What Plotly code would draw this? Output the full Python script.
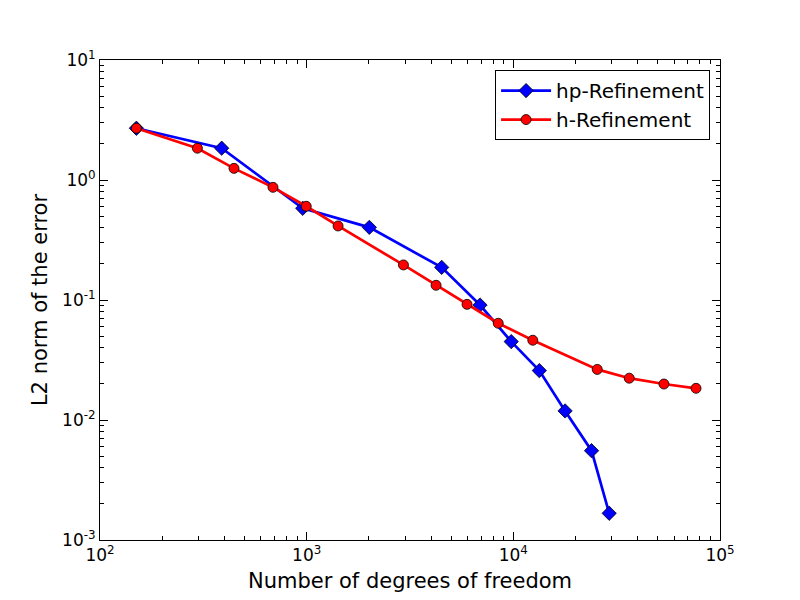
import plotly.graph_objects as go

hp_dof = [150, 388, 957, 2010, 4500, 6900, 9770, 13360, 17800, 23900, 29100]
hp_err = [2.70, 1.84, 0.581, 0.403, 0.187, 0.0908, 0.045, 0.0258, 0.0119, 0.00555, 0.00167]

h_dof = [150, 296, 445, 687, 995, 1419, 2940, 4228, 5970, 8450, 12420, 25470, 36380, 53550, 76560]
h_err = [2.70, 1.84, 1.25, 0.869, 0.604, 0.414, 0.196, 0.1326, 0.092, 0.064, 0.0462, 0.0264, 0.0223, 0.01995, 0.01837]

x_ticks = [1e2, 1e3, 1e4, 1e5]
x_ticktext = ["10<sup>2</sup>", "10<sup>3</sup>", "10<sup>4</sup>", "10<sup>5</sup>"]
y_ticks = [1e-3, 1e-2, 1e-1, 1e0, 1e1]
y_ticktext = ["10<sup>-3</sup>", "10<sup>-2</sup>", "10<sup>-1</sup>", "10<sup>0</sup>", "10<sup>1</sup>"]

x_minor = [m * 10 ** e for e in (2, 3, 4) for m in range(2, 10)]
y_minor = [m * 10.0 ** e for e in (-3, -2, -1, 0) for m in range(2, 10)]

font = "DejaVu Sans"

fig = go.Figure()
fig.add_trace(go.Scatter(
    x=hp_dof, y=hp_err, mode="lines+markers", name="hp-Refinement",
    line=dict(color="#0000ff", width=2.7),
    marker=dict(symbol="diamond", size=11, color="#0000ff", line=dict(color="black", width=0.8)),
))
fig.add_trace(go.Scatter(
    x=h_dof, y=h_err, mode="lines+markers", name="h-Refinement",
    line=dict(color="#ff0000", width=2.7),
    marker=dict(symbol="circle", size=10, color="#ff0000", line=dict(color="black", width=0.8)),
))
# invisible trace to anchor the minor-tick overlay axes
fig.add_trace(go.Scatter(x=[x_ticks[0]], y=[y_ticks[0]], xaxis="x2", yaxis="y2",
                         mode="markers", marker=dict(opacity=0), showlegend=False, hoverinfo="skip"))

major = dict(
    type="log", showgrid=False, zeroline=False, showline=True, linecolor="black", linewidth=1,
    mirror="ticks", ticks="inside", ticklen=8, tickcolor="black", tickwidth=1,
    tickfont=dict(family=font, size=17, color="black"),
)
minor = dict(
    type="log", showgrid=False, zeroline=False, showline=False,
    mirror="ticks", ticks="inside", ticklen=4, tickcolor="black", tickwidth=1,
    showticklabels=False,
)

fig.update_layout(
    width=800, height=600,
    margin=dict(l=100, r=80, t=60, b=60),
    paper_bgcolor="white", plot_bgcolor="white",
    font=dict(family=font, color="black"),
    xaxis=dict(major, range=[2, 5], tickvals=x_ticks, ticktext=x_ticktext,
               title=dict(text="Number of degrees of freedom", font=dict(family=font, size=21), standoff=8)),
    yaxis=dict(major, range=[-3, 1], tickvals=y_ticks, ticktext=y_ticktext,
               title=dict(text="L2 norm of the error", font=dict(family=font, size=21), standoff=8)),
    xaxis2=dict(minor, range=[2, 5], tickvals=x_minor, overlaying="x", anchor="y2"),
    yaxis2=dict(minor, range=[-3, 1], tickvals=y_minor, overlaying="y", anchor="x2"),
    legend=dict(x=0.984, y=0.979, xanchor="right", yanchor="top",
                bordercolor="black", borderwidth=1, bgcolor="white",
                font=dict(family=font, size=20), itemwidth=50, tracegroupgap=0),
    showlegend=True,
)

fig.write_html("out.html", config={"displayModeBar": False},
               post_script="document.body.style.margin='0';")
